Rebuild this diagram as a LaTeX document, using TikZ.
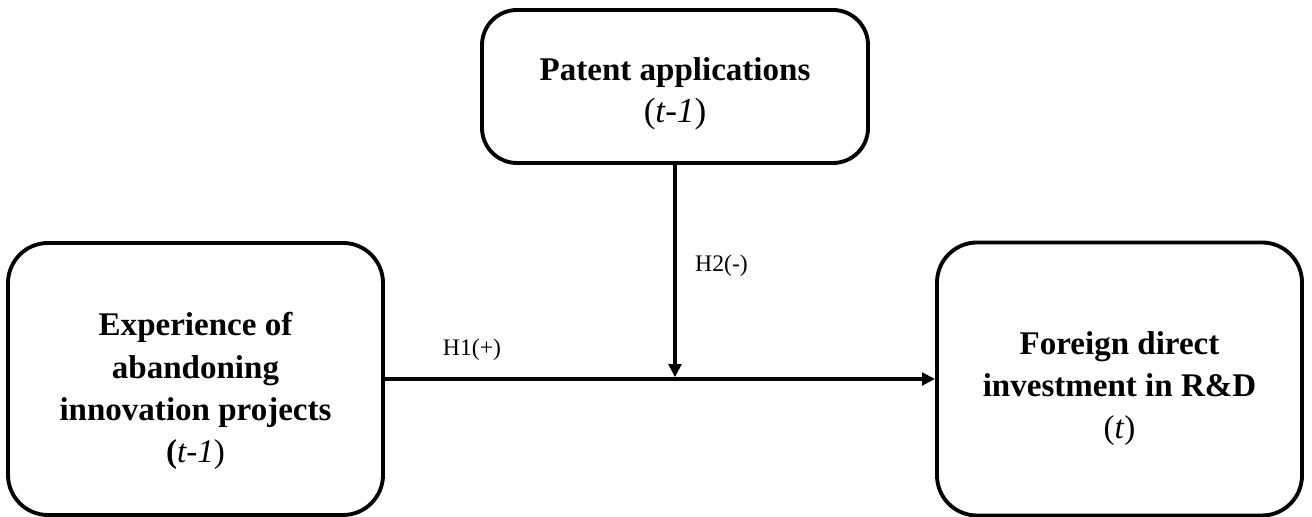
\documentclass[tikz,border=0pt]{standalone}
\usepackage{fontspec}
\setmainfont{Liberation Serif}
\usetikzlibrary{calc}
\usetikzlibrary{arrows.meta}

\tikzset{
  box/.style={draw=black, line width=2.2pt, rounded corners=0.8cm, align=center,
    font=\bfseries\fontsize{18.8}{24}\selectfont},
  hyp/.style={font=\fontsize{13.5}{15}\selectfont},
  arr/.style={line width=2.2pt, -{Triangle[length=0.26cm,width=0.25cm]}}
}

\begin{document}
\begin{tikzpicture}

\useasboundingbox (0,0) rectangle (26.24,10.34);

\coordinate (mid) at (13.5,2.76);

\node[box, minimum width=7.5cm, minimum height=5.44cm] (exp) at (3.91,2.76)
  {\rule{0pt}{0.95cm}Experience of\\abandoning\\innovation projects\\({\mdseries\itshape t-1\upshape)}};
\node[box, minimum width=7.3cm, minimum height=5.46cm] (fdi) at (22.39,2.76)
  {\rule{0pt}{0.85cm}Foreign direct\\investment in R\&D\\{\mdseries(\textit{t})}};
\node[box, rounded corners=0.7cm, minimum width=7.72cm, minimum height=3.06cm] (pat) at (13.5,8.61)
  {\rule{0pt}{0.75cm}Patent applications\\{\mdseries\fontsize{20}{24}\selectfont(\textit{t-1})}};

\draw[arr] (exp.east) -- (fdi.west);
\draw[arr, shorten >=1pt] (pat.south -| mid) -- (mid);

\node[hyp] (h1) at (9.44,3.34) {H1(+)};
\node[hyp] (h2) at (14.43,5.02) {H2(-)};

\end{tikzpicture}
\end{document}
